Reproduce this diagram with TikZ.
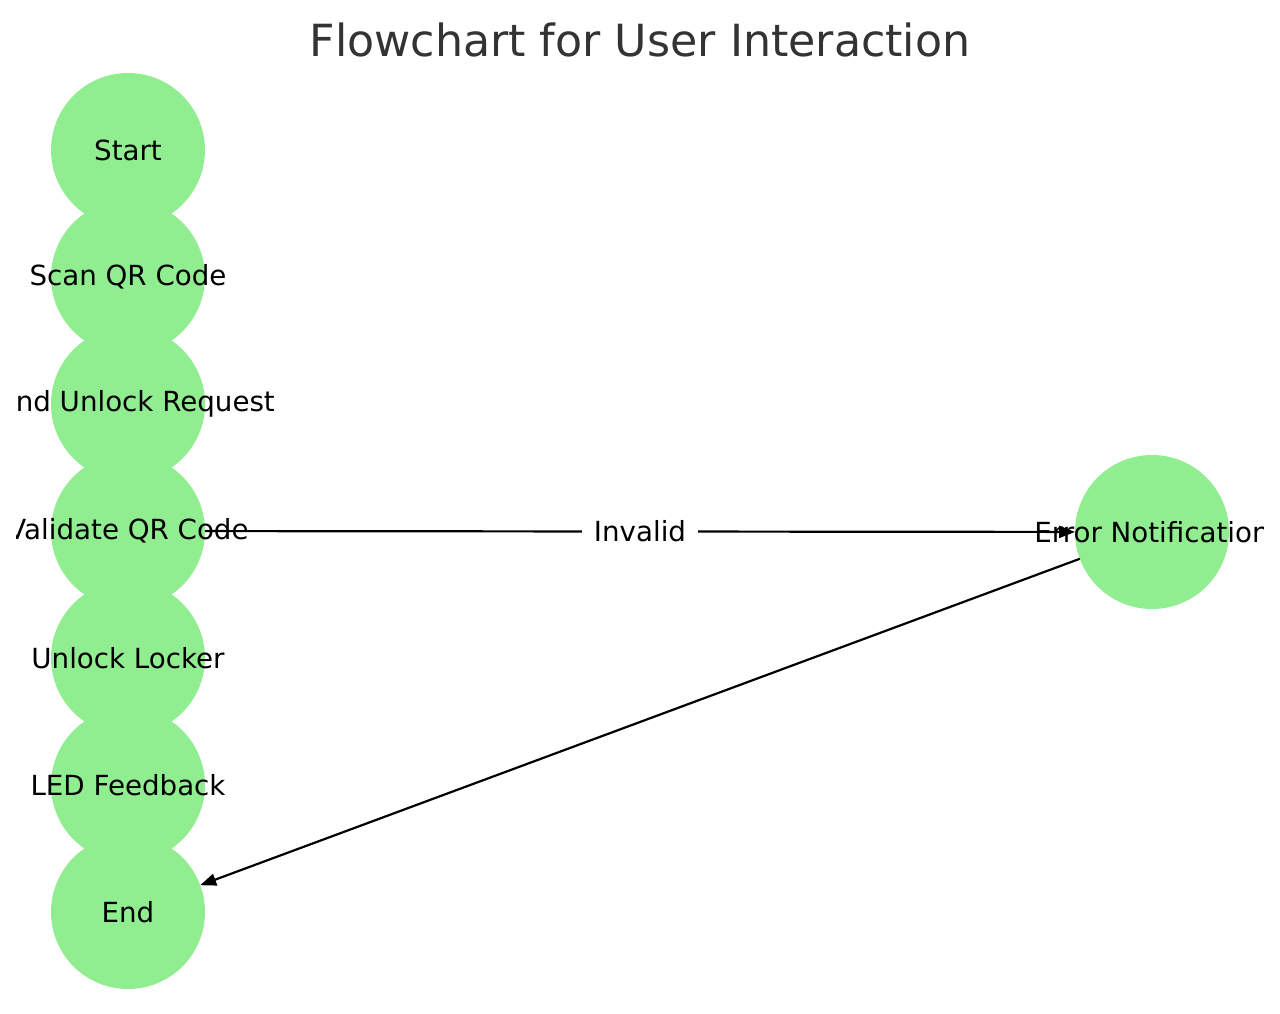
\documentclass[tikz,border=0pt]{standalone}
\usepackage{fontspec}
\setmainfont{DejaVu Sans}
\usetikzlibrary{arrows.meta}
\definecolor{nodegreen}{HTML}{90EE90}
\definecolor{titlegray}{HTML}{333333}
\tikzset{
  flownode/.style={circle, fill=nodegreen, minimum size=154pt, inner sep=0pt, outer sep=0pt},
  nodetext/.style={inner sep=0pt, font=\fontsize{27.7}{33}\selectfont, text=black},
  flowedge/.style={draw=black, line width=2.2pt, -{Triangle[length=16pt,width=12pt]}},
  edgelabel/.style={fill=white, inner xsep=12pt, inner ysep=6pt, font=\fontsize{27.7}{33}\selectfont}
}
\begin{document}
\begin{tikzpicture}[x=1pt,y=-1pt]
\useasboundingbox (0,0) rectangle (1280,1014);
\clip (0,0) rectangle (1280,1014);
\fill[white] (0,0) rectangle (1280,1014);
\node[font=\fontsize{44.3}{52}\selectfont, text=titlegray] (title) at (640,40) {Flowchart for User Interaction};
\node[flownode] (start) at (128,150) {};
\node[flownode] (scan) at (128,277) {};
\node[flownode] (send) at (128,404) {};
\node[flownode] (valid) at (128,531) {};
\node[flownode] (unlock) at (128,658) {};
\node[flownode] (led) at (128,785) {};
\node[flownode] (end) at (128,912) {};
\node[flownode] (err) at (1152,532) {};
\draw[flowedge] (valid) -- node[edgelabel] (invlabel) {Invalid} (err);
\draw[flowedge] (err) -- (end);
\begin{scope}
\clip (16,60) rectangle (1263,1000);
\node[nodetext] (tstart) at (start) {Start};
\node[nodetext] (tscan) at (scan) {Scan QR Code};
\node[nodetext] (tsend) at (send) {Send Unlock Request};
\node[nodetext] (tvalid) at (valid) {Validate QR Code};
\node[nodetext] (tunlock) at (unlock) {Unlock Locker};
\node[nodetext] (tled) at (led) {LED Feedback};
\node[nodetext] (tend) at (end) {End};
\node[nodetext] (terr) at (err) {Error Notification};
\end{scope}
\end{tikzpicture}
\end{document}
